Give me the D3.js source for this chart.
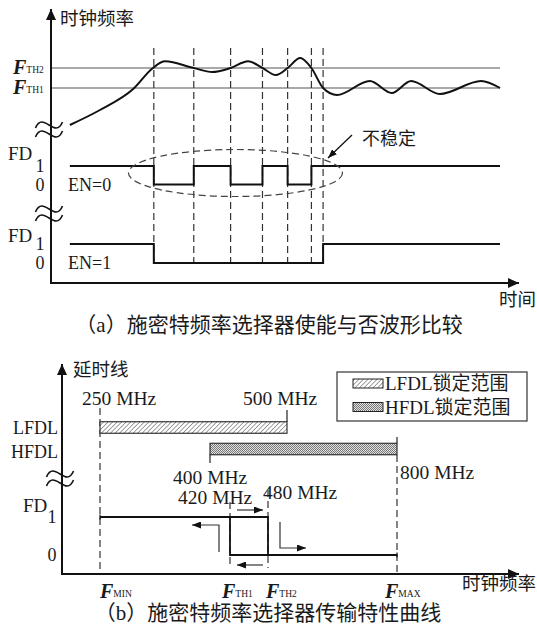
<!DOCTYPE html>
<html>
<head>
<meta charset="utf-8">
<script src="https://cdn.jsdelivr.net/npm/d3@7"></script>
<style>
  body { margin: 0; background: #fff; }
  svg text { font-family: "Liberation Serif", "Noto Sans CJK SC", serif; fill: #1a1a1a; }
  svg text.cjk { font-family: "Noto Sans CJK SC", sans-serif; }
</style>
</head>
<body>
<div id="chart"></div>
<script>
// ---- (a) waveform data: time in arbitrary units (0..100), frequency in MHz
const curveT = [4.2, 10.9, 18.3, 22.7, 25.4, 31.8, 35.9, 40, 43.9, 47.1, 50.1, 52.7, 55.5, 58, 60.6, 63.7, 71.0, 75.9, 80.2, 86.6, 95.8, 100];
const curveF = [309, 354, 417, 480, 500, 480, 468, 480, 500, 480, 459, 480, 510, 480, 420, 399, 441, 405, 441, 402, 441, 420];
const thLevels = [420, 480];
const thNames = ["TH1", "TH2"];
const edgeT = [22.9, 31.8, 40, 47.1, 52.7, 58, 60.6];
const en0T = [4.2, 22.9, 31.8, 40, 47.1, 52.7, 58, 100];
const en0V = [1, 0, 1, 0, 1, 0, 1, 1];
const en1T = [4.2, 22.9, 60.6, 100];
const en1V = [1, 0, 1, 1];

// ---- (b) transfer characteristic data (MHz)
const dlNames = ["LFDL", "HFDL"];
const dlMin = [250, 400];
const dlMax = [500, 800];
const fdHiRange = [250, 480];
const fdLoRange = [420, 800];
const fNames = ["MIN", "TH1", "TH2", "MAX"];
const fVals = [250, 420, 480, 800];
const mhzVals = [250, 500, 400, 420, 480, 800];

const W = 537, H = 639;
const svg = d3.select("#chart").append("svg").attr("width", W).attr("height", H);
const defs = svg.append("defs");

function marker(id, len, half) {
  defs.append("marker")
    .attr("id", id)
    .attr("viewBox", `0 0 ${len} ${half * 2}`)
    .attr("refX", len).attr("refY", half)
    .attr("markerWidth", len).attr("markerHeight", half * 2)
    .attr("markerUnits", "userSpaceOnUse")
    .attr("orient", "auto")
    .append("path")
    .attr("d", `M0,0 L${len},${half} L0,${half * 2} Z`)
    .attr("fill", "#111");
}
marker("axArrow", 11, 5);
marker("smArrow", 9, 3.5);

// hatch patterns for the lock ranges
const hatch = defs.append("pattern").attr("id", "hatchL")
  .attr("patternUnits", "userSpaceOnUse").attr("width", 3.2).attr("height", 3.2)
  .attr("patternTransform", "rotate(45)");
hatch.append("rect").attr("width", 3.2).attr("height", 3.2).attr("fill", "#fff");
hatch.append("line").attr("x1", 0).attr("y1", 0).attr("x2", 0).attr("y2", 3.2)
  .attr("stroke", "#555").attr("stroke-width", 1.1);

const dots = defs.append("pattern").attr("id", "hatchH")
  .attr("patternUnits", "userSpaceOnUse").attr("width", 2).attr("height", 2);
dots.append("rect").attr("width", 2).attr("height", 2).attr("fill", "#e2e2e2");
dots.append("rect").attr("width", 1).attr("height", 1).attr("fill", "#777");
dots.append("rect").attr("x", 1).attr("y", 1).attr("width", 1).attr("height", 1).attr("fill", "#777");

function tilde(g, cx, cy) {
  const p = (dx, dy) => `${cx + dx},${cy + dy}`;
  g.append("path")
    .attr("d", `M${p(-13.5, 3)} C${p(-6, -15)} ${p(6, 15)} ${p(13.5, -3)}`)
    .attr("fill", "none").attr("stroke", "#111").attr("stroke-width", 1.6);
}

function fLabel(g, x, y, sub) {
  const t = g.append("text").attr("x", x).attr("y", y).attr("dominant-baseline", "central");
  t.append("tspan").text("F").attr("font-size", 20).attr("font-style", "italic").attr("font-weight", "bold");
  t.append("tspan").text(sub).attr("font-size", 9.5).attr("dy", 3);
}

// =============== (a) ===============
const xA = d3.scaleLinear().domain([0, 100]).range([51, 500]);
const yA = d3.scaleLinear().domain([420, 480]).range([88, 68]);
const yEn0 = d3.scaleLinear().domain([0, 1]).range([184.5, 166]);
const yEn1 = d3.scaleLinear().domain([0, 1]).range([263, 244]);

const gA = svg.append("g");

// threshold lines
gA.selectAll("line.th").data(thLevels).join("line")
  .attr("class", "th")
  .attr("x1", xA(0)).attr("x2", xA(100))
  .attr("y1", d => yA(d)).attr("y2", d => yA(d))
  .attr("stroke", "#555").attr("stroke-width", 1.2);

thLevels.forEach((d, i) => fLabel(gA, 13, yA(d) - 1, thNames[i]));

// dashed edges
gA.selectAll("line.edge").data(edgeT).join("line")
  .attr("class", "edge")
  .attr("x1", d => xA(d)).attr("x2", d => xA(d))
  .attr("y1", 48).attr("y2", yEn1(0))
  .attr("stroke", "#333").attr("stroke-width", 1.2).attr("stroke-dasharray", "7,4");

// frequency curve
const freqLine = d3.line()
  .x(i => xA(curveT[i])).y(i => yA(curveF[i]))
  .curve(d3.curveMonotoneX);
gA.append("path")
  .attr("d", freqLine(d3.range(curveT.length)))
  .attr("fill", "none").attr("stroke", "#111").attr("stroke-width", 2);

// FD square waves
function stepPath(ts, vs, y) {
  return d3.line().x(i => xA(ts[i])).y(i => y(vs[i])).curve(d3.curveStepAfter)(d3.range(ts.length));
}
gA.append("path").attr("d", stepPath(en0T, en0V, yEn0))
  .attr("fill", "none").attr("stroke", "#111").attr("stroke-width", 2);
gA.append("path").attr("d", stepPath(en1T, en1V, yEn1))
  .attr("fill", "none").attr("stroke", "#111").attr("stroke-width", 2);

// unstable region ellipse + note
gA.append("ellipse")
  .attr("cx", (xA(edgeT[0]) + xA(edgeT[edgeT.length - 1])) / 2 - 3).attr("cy", 173)
  .attr("rx", 107).attr("ry", 23.5)
  .attr("fill", "none").attr("stroke", "#444").attr("stroke-width", 1.2).attr("stroke-dasharray", "7,4");
gA.append("line").attr("x1", 352).attr("y1", 135).attr("x2", 328).attr("y2", 158)
  .attr("stroke", "#111").attr("stroke-width", 1.3).attr("marker-end", "url(#smArrow)");
gA.append("text").attr("class", "cjk").attr("x", 362).attr("y", 137)
  .attr("dominant-baseline", "central").attr("font-size", 18).text("不稳定");

// axes
gA.append("line").attr("x1", 51).attr("y1", 284).attr("x2", 51).attr("y2", 9)
  .attr("stroke", "#111").attr("stroke-width", 2).attr("marker-end", "url(#axArrow)");
gA.append("line").attr("x1", 50).attr("y1", 283).attr("x2", 519).attr("y2", 283)
  .attr("stroke", "#111").attr("stroke-width", 2).attr("marker-end", "url(#axArrow)");
gA.append("text").attr("class", "cjk").attr("x", 60).attr("y", 17)
  .attr("dominant-baseline", "central").attr("font-size", 18.5).text("时钟频率");
gA.append("text").attr("class", "cjk").attr("x", 499).attr("y", 298)
  .attr("dominant-baseline", "central").attr("font-size", 18.5).text("时间");

// axis breaks
[125, 134, 209, 218].forEach(y => tilde(gA, 49, y));

// FD labels
[[yEn0, "EN=0", 153], [yEn1, "EN=1", 235]].forEach(([y, en, fy]) => {
  gA.append("text").attr("x", 8).attr("y", fy).attr("dominant-baseline", "central").attr("font-size", 19).text("FD");
  [1, 0].forEach(v => gA.append("text").attr("x", 40).attr("y", y(v)).attr("text-anchor", "middle")
    .attr("dominant-baseline", "central").attr("font-size", 18).text(v));
  gA.append("text").attr("x", 68).attr("y", y(0)).attr("dominant-baseline", "central")
    .attr("font-size", 18).text(en);
});

svg.append("text").attr("x", 269).attr("y", 325).attr("text-anchor", "middle")
  .attr("dominant-baseline", "central").attr("font-size", 21)
  .text("（a）施密特频率选择器使能与否波形比较");

// =============== (b) ===============
const xB = d3.scaleLinear().domain([250, 400, 420, 480, 500, 800]).range([100, 210, 230, 268, 287, 397]);
const yRow = d3.scalePoint().domain(dlNames).range([427.5, 449]);
const yFd = d3.scaleLinear().domain([0, 1]).range([555, 517]);
const barH = 11.5;
const gB = svg.append("g");

// dashed frequency markers
const dashSpans = { 250: [408, 574], 420: [502, 568], 480: [490, 568], 800: [455, 574] };
gB.selectAll("line.fd").data(fVals).join("line")
  .attr("class", "fd")
  .attr("x1", d => xB(d)).attr("x2", d => xB(d))
  .attr("y1", d => dashSpans[d][0]).attr("y2", d => dashSpans[d][1])
  .attr("stroke", "#333").attr("stroke-width", 1.2).attr("stroke-dasharray", "7,4");

// lock range bars
gB.selectAll("rect.dl").data(dlNames).join("rect")
  .attr("class", "dl")
  .attr("x", (d, i) => xB(dlMin[i]))
  .attr("width", (d, i) => xB(dlMax[i]) - xB(dlMin[i]))
  .attr("y", d => yRow(d) - barH / 2).attr("height", barH)
  .attr("fill", (d, i) => i === 0 ? "url(#hatchL)" : "url(#hatchH)")
  .attr("stroke", "#222").attr("stroke-width", 1.1);
gB.selectAll("text.dl").data(dlNames).join("text")
  .attr("class", "dl")
  .attr("x", 58).attr("y", (d, i) => yRow(d) + (i ? 3 : 0)).attr("text-anchor", "end")
  .attr("dominant-baseline", "central").attr("font-size", 18).text(d => d);

// small solid leader ticks at bar ends
const top0 = yRow("LFDL") - barH / 2, top1 = yRow("HFDL") - barH / 2, bot1 = yRow("HFDL") + barH / 2;
[[dlMax[0], 410, top0], [dlMin[1], bot1, 463], [dlMax[1], 437, top1]].forEach(([f, a, b]) =>
  gB.append("line").attr("x1", xB(f)).attr("x2", xB(f)).attr("y1", a).attr("y2", b)
    .attr("stroke", "#222").attr("stroke-width", 1.2));

// MHz labels
const mhzPos = { 250: [-18, 398], 500: [-44, 398], 400: [-37, 477], 420: [-52, 497], 480: [-5, 492], 800: [3, 472] };
gB.selectAll("text.mhz").data(mhzVals).join("text")
  .attr("class", "mhz")
  .attr("x", d => xB(d) + mhzPos[d][0]).attr("y", d => mhzPos[d][1])
  .attr("dominant-baseline", "central").attr("font-size", 19.5)
  .text(d => d + " MHz");

// FD hysteresis loop
const fdLine = d3.line().x(d => xB(d[0])).y(d => yFd(d[1]));
gB.append("path")
  .attr("d", fdLine([[fdHiRange[0], 1], [fdHiRange[1], 1], [fdHiRange[1], 0]]))
  .attr("fill", "none").attr("stroke", "#111").attr("stroke-width", 1.8);
gB.append("path")
  .attr("d", fdLine([[fdLoRange[0], 1], [fdLoRange[0], 0], [fdLoRange[1], 0]]))
  .attr("fill", "none").attr("stroke", "#111").attr("stroke-width", 1.8);
[[fdHiRange[0], 1], [fdLoRange[1], 0]].forEach(([f, v]) =>
  gB.append("line").attr("x1", xB(f)).attr("x2", xB(f)).attr("y1", yFd(v) - 2.5).attr("y2", yFd(v) + 2.5)
    .attr("stroke", "#111").attr("stroke-width", 1.2));

// direction arrows
const arrows = [
  [[xB(420) + 7, yFd(1) - 7], [xB(480) - 5, yFd(1) - 7]],
  [[xB(480) - 5, yFd(0) + 10], [xB(420) + 7, yFd(0) + 10]],
  [[xB(420) - 11, yFd(0) - 3], [xB(420) - 11, yFd(1) + 8], [xB(420) - 38, yFd(1) + 8]],
  [[xB(480) + 12, yFd(1) + 5], [xB(480) + 12, yFd(0) - 7], [xB(480) + 38, yFd(0) - 7]]
];
arrows.forEach(pts => gB.append("path").attr("d", d3.line()(pts))
  .attr("fill", "none").attr("stroke", "#333").attr("stroke-width", 1.2).attr("marker-end", "url(#smArrow)"));

// axes
gB.append("line").attr("x1", 62).attr("y1", 575).attr("x2", 62).attr("y2", 364)
  .attr("stroke", "#111").attr("stroke-width", 2).attr("marker-end", "url(#axArrow)");
gB.append("line").attr("x1", 61).attr("y1", 574).attr("x2", 519).attr("y2", 574)
  .attr("stroke", "#111").attr("stroke-width", 2).attr("marker-end", "url(#axArrow)");
gB.append("text").attr("class", "cjk").attr("x", 73).attr("y", 368)
  .attr("dominant-baseline", "central").attr("font-size", 18.5).text("延时线");
gB.append("text").attr("class", "cjk").attr("x", 462).attr("y", 582)
  .attr("dominant-baseline", "central").attr("font-size", 18.5).text("时钟频率");
[474, 483].forEach(y => tilde(gB, 60, y));

gB.append("text").attr("x", 23).attr("y", 505).attr("dominant-baseline", "central").attr("font-size", 19).text("FD");
[1, 0].forEach(v => gB.append("text").attr("x", 52).attr("y", yFd(v)).attr("text-anchor", "middle")
  .attr("dominant-baseline", "central").attr("font-size", 18).text(v));

// F labels under x axis
const fDx = [0, -8, -2, -12];
fVals.forEach((f, i) => fLabel(gB, xB(f) + fDx[i], 591, fNames[i]));

// legend
const lg = gB.append("g");
lg.append("rect").attr("x", 337).attr("y", 372).attr("width", 190).attr("height", 49)
  .attr("fill", "#fff").attr("stroke", "#333").attr("stroke-width", 1.2);
dlNames.forEach((d, i) => {
  const y = 383.5 + i * 23.5;
  lg.append("rect").attr("x", 353).attr("y", y - 4.5).attr("width", 30).attr("height", 9)
    .attr("fill", i === 0 ? "url(#hatchL)" : "url(#hatchH)").attr("stroke", "#222").attr("stroke-width", 1);
  lg.append("text").attr("x", 385).attr("y", y).attr("dominant-baseline", "central")
    .attr("font-size", 19).text(d + "锁定范围");
});

svg.append("text").attr("x", 268).attr("y", 613).attr("text-anchor", "middle")
  .attr("dominant-baseline", "central").attr("font-size", 21)
  .text("（b）施密特频率选择器传输特性曲线");
</script>
</body>
</html>
